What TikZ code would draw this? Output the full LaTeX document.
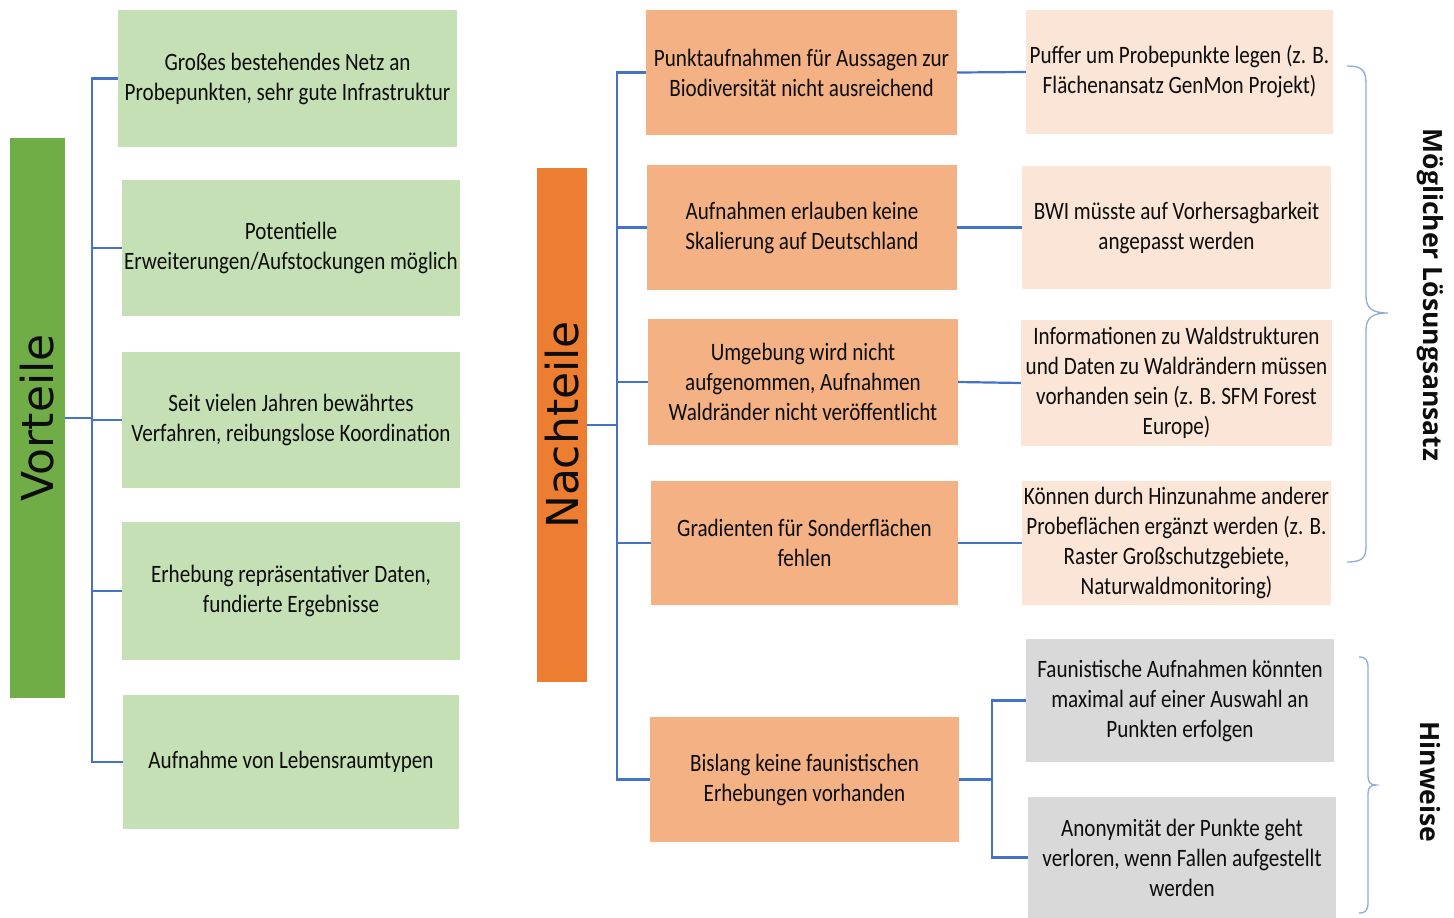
\documentclass[tikz,border=0pt]{standalone}
\usepackage{fontspec}
\setmainfont{Carlito}[FakeStretch=0.845]
\newfontfamily\barfont{DejaVu Sans}
\newfontfamily\sidefont{Open Sans}
\definecolor{vgreen}{HTML}{70AD47}
\definecolor{vlight}{HTML}{C5E0B4}
\definecolor{norange}{HTML}{ED7D31}
\definecolor{nlight}{HTML}{F4B183}
\definecolor{lpeach}{HTML}{FBE5D6}
\definecolor{hgrey}{HTML}{D9D9D9}
\definecolor{treeblue}{HTML}{4472C4}
\definecolor{braceblue}{HTML}{8FAADC}
\tikzset{
  box/.style={inner sep=0pt, align=center, text=black!95,
    font=\fontsize{25}{30}\selectfont},
  bar/.style={inner sep=0pt, minimum width=#1},
  bartext/.style={rotate=90, text=black!95, font=\barfont\fontsize{44}{48}\selectfont},
  sidetext/.style={rotate=-90, text=black!95, font=\sidefont\bfseries\fontsize{26.5}{30}\selectfont},
  tree/.style={draw=treeblue, line width=2.2pt},
  bracket/.style={draw=braceblue, line width=1.3pt}
}

\begin{document}
\begin{tikzpicture}[x=1pt, y=-1pt]
    \useasboundingbox (0,0) rectangle (1454,918);

    % Vorteile
    \node[bar=55, minimum height=560, fill=vgreen] (vort) at (37.5,418) {};
    \node[bartext] at (vort) {Vorteile};
    \node[box, fill=vlight, minimum width=339, minimum height=137] (g1) at (287.5,78.5)
        {Großes bestehendes Netz an\\Probepunkten, sehr gute Infrastruktur};
    \node[box, fill=vlight, minimum width=338, minimum height=136] (g2) at (291,248)
        {Potentielle\\Erweiterungen/Aufstockungen möglich};
    \node[box, fill=vlight, minimum width=338, minimum height=136] (g3) at (291,420)
        {Seit vielen Jahren bewährtes\\Verfahren, reibungslose Koordination};
    \node[box, fill=vlight, minimum width=338, minimum height=138] (g4) at (291,591)
        {Erhebung repräsentativer Daten,\\fundierte Ergebnisse};
    \node[box, fill=vlight, minimum width=336, minimum height=134] (g5) at (291,762)
        {Aufnahme von Lebensraumtypen};
    \coordinate (vj) at (92,418);
    \draw[tree] (vort.east) -- (vj);
    \foreach \n in {g1,g2,g3,g4,g5}
        \draw[tree] (vj) |- (\n.west);

    % Nachteile
    \node[bar=50, minimum height=514, fill=norange] (nach) at (562,425) {};
    \node[bartext] at (nach) {Nachteile};
    \node[box, fill=nlight, minimum width=311, minimum height=125] (o1) at (801.5,72.5)
        {Punktaufnahmen für Aussagen zur\\Biodiversität nicht ausreichend};
    \node[box, fill=nlight, minimum width=310, minimum height=125] (o2) at (802,227.5)
        {Aufnahmen erlauben keine\\Skalierung auf Deutschland};
    \node[box, fill=nlight, minimum width=310, minimum height=126] (o3) at (803,382)
        {Umgebung wird nicht\\aufgenommen, Aufnahmen\\Waldränder nicht veröffentlicht};
    \node[box, fill=nlight, minimum width=307, minimum height=124] (o4) at (804.5,543)
        {Gradienten für Sonderflächen\\fehlen};
    \node[box, fill=nlight, minimum width=309, minimum height=125] (o5) at (804.5,779.5)
        {Bislang keine faunistischen\\Erhebungen vorhanden};
    \coordinate (nj) at (617,425);
    \draw[tree] (nach.east) -- (nj);
    \foreach \n in {o1,o2,o3,o4,o5}
        \draw[tree] (nj) |- (\n.west);

    % Loesungsansaetze
    \node[box, fill=lpeach, minimum width=307, minimum height=124] (p1) at (1179.5,72)
        {Puffer um Probepunkte legen (z. B.\\Flächenansatz GenMon Projekt)};
    \node[box, fill=lpeach, minimum width=309, minimum height=123] (p2) at (1176.5,227.5)
        {BWI müsste auf Vorhersagbarkeit\\angepasst werden};
    \node[box, fill=lpeach, minimum width=311, minimum height=126] (p3) at (1176.5,383)
        {Informationen zu Waldstrukturen\\und Daten zu Waldrändern müssen\\vorhanden sein (z. B. SFM Forest\\Europe)};
    \node[box, fill=lpeach, minimum width=309, minimum height=124] (p4) at (1176.5,543)
        {Können durch Hinzunahme anderer\\Probeflächen ergänzt werden (z. B.\\Raster Großschutzgebiete,\\Naturwaldmonitoring)};
    \foreach \i in {1,2,3,4}
        \draw[tree] (o\i.east) -- (p\i.west);

    % Hinweise
    \node[box, fill=hgrey, minimum width=308, minimum height=123] (h1) at (1180,700.5)
        {Faunistische Aufnahmen könnten\\maximal auf einer Auswahl an\\Punkten erfolgen};
    \node[box, fill=hgrey, minimum width=308, minimum height=121] (h2) at (1182,857.5)
        {Anonymität der Punkte geht\\verloren, wenn Fallen aufgestellt\\werden};
    \coordinate (hj) at (992,779.5);
    \draw[tree] (o5.east) -- (hj);
    \draw[tree] (hj) |- (h1.west);
    \draw[tree] (hj) |- (h2.west);

    % Klammern
    \draw[bracket] (1347,66) .. controls (1362,66) and (1366,70) .. (1366,84)
        -- (1366,296) .. controls (1366,308) and (1372,313) .. (1388,313)
        .. controls (1372,313) and (1366,318) .. (1366,330)
        -- (1366,546) .. controls (1366,558) and (1362,562) .. (1347,562);
    \draw[bracket] (1359,657) .. controls (1366,657) and (1368,660) .. (1368,668)
        -- (1368,776) .. controls (1368,782) and (1370,785) .. (1376,785)
        .. controls (1370,785) and (1368,788) .. (1368,794)
        -- (1368,902) .. controls (1368,910) and (1366,913) .. (1359,913);
    \node[sidetext] (loes) at (1430,295) {Möglicher Lösungsansatz};
    \node[sidetext] (hinw) at (1430,782) {Hinweise};
\end{tikzpicture}
\end{document}
